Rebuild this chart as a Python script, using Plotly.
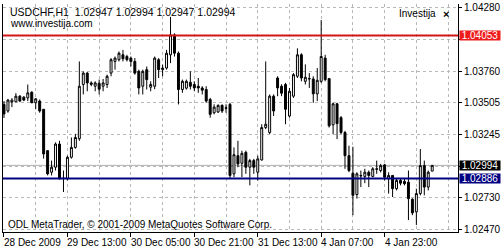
import plotly.graph_objects as go

# ---- data (USDCHF H1) ----
opens = [1.03491,1.03437,1.03510,1.03512,1.03558,1.03550,1.03544,1.03590,1.03504,1.03518,
         1.03451,1.03114,1.02938,1.02979,1.03168,1.02887,1.02885,1.03060,1.03140,1.03211,
         1.03653,1.03746,1.03666,1.03639,1.03663,1.03639,1.03653,1.03746,1.03841,1.03855,
         1.03895,1.03881,1.03868,1.03841,1.03760,1.03639,1.03774,1.03631,1.03639,1.03855,
         1.03774,1.03787,1.03895,1.04057,1.03908,1.03612,1.03623,1.03671,1.03653,1.03639,
         1.03625,1.03612,1.03531,1.03423,1.03429,1.03483,1.03463,1.03491,1.02925,1.03073,
         1.03011,1.03100,1.02979,1.03033,1.02938,1.03038,1.03302,1.03262,1.03558,1.03706,
         1.03639,1.03653,1.03396,1.03558,1.03720,1.03895,1.03679,1.03698,1.03698,1.03577,
         1.03679,1.03868,1.03701,1.03324,1.03496,1.03383,1.03262,1.03073,1.02930,1.02756,
         1.02912,1.02904,1.02938,1.02904,1.02966,1.02952,1.02998,1.02885,1.02912,1.02804,
         1.02871,1.02863,1.02857,1.02718,1.02615,1.02764,1.02992,1.02817,1.02947]
highs = [1.03518,1.03536,1.03542,1.03582,1.03566,1.03558,1.03653,1.03598,1.03542,1.03531,
         1.03453,1.03114,1.03033,1.03181,1.03194,1.02952,1.03073,1.03221,1.03251,1.03841,
         1.03760,1.03754,1.03679,1.03679,1.03693,1.03698,1.03733,1.03868,1.03881,1.03922,
         1.03935,1.03895,1.03881,1.03868,1.03774,1.03774,1.03800,1.03679,1.03881,1.03868,
         1.03814,1.03935,1.04204,1.04070,1.03922,1.03693,1.03693,1.03760,1.03679,1.03706,
         1.03639,1.03639,1.03544,1.03491,1.03491,1.03491,1.03491,1.03504,1.03140,1.03194,
         1.03114,1.03114,1.03047,1.03047,1.03073,1.03329,1.03841,1.03572,1.03572,1.03720,
         1.03655,1.03666,1.03625,1.03746,1.03948,1.03908,1.03817,1.03746,1.03720,1.03787,
         1.04178,1.03895,1.03706,1.03504,1.03504,1.03396,1.03275,1.03154,1.03146,1.02938,
         1.02952,1.02966,1.02952,1.02979,1.03033,1.03006,1.03006,1.02938,1.02912,1.02885,
         1.02885,1.02885,1.02952,1.02726,1.02804,1.03127,1.03033,1.02952,1.02994]
lows = [1.03380,1.03423,1.03469,1.03510,1.03510,1.03518,1.03518,1.03501,1.03451,1.03423,
        1.03049,1.02912,1.02912,1.02952,1.02879,1.02777,1.02871,1.03049,1.03130,1.03194,
        1.03572,1.03598,1.03639,1.03598,1.03572,1.03598,1.03625,1.03720,1.03774,1.03841,
        1.03841,1.03841,1.03800,1.03733,1.03572,1.03572,1.03612,1.03598,1.03615,1.03706,
        1.03720,1.03774,1.03827,1.03881,1.03491,1.03585,1.03612,1.03612,1.03598,1.03585,
        1.03572,1.03504,1.03383,1.03410,1.03421,1.03421,1.03423,1.02887,1.02898,1.02979,
        1.02898,1.02925,1.02831,1.02925,1.02871,1.03033,1.03289,1.03249,1.03396,1.03558,
        1.03558,1.03329,1.03383,1.03544,1.03706,1.03679,1.03653,1.03625,1.03504,1.03518,
        1.03666,1.03679,1.03302,1.03249,1.03208,1.03249,1.02966,1.02938,1.02588,1.02723,
        1.02817,1.02849,1.02817,1.02898,1.02925,1.02936,1.02871,1.02764,1.02736,1.02790,
        1.02831,1.02831,1.02548,1.02588,1.02508,1.02750,1.02750,1.02790,1.02947]
closes = [1.03413,1.03526,1.03526,1.03558,1.03518,1.03526,1.03585,1.03504,1.03536,1.03437,
          1.03087,1.02925,1.02979,1.03168,1.02885,1.02889,1.03060,1.03140,1.03221,1.03639,
          1.03746,1.03666,1.03655,1.03666,1.03615,1.03666,1.03720,1.03855,1.03868,1.03908,
          1.03863,1.03855,1.03841,1.03746,1.03625,1.03760,1.03693,1.03653,1.03868,1.03774,
          1.03787,1.03908,1.04057,1.03908,1.03612,1.03679,1.03679,1.03639,1.03625,1.03625,
          1.03607,1.03518,1.03410,1.03469,1.03483,1.03437,1.03459,1.02912,1.03081,1.03006,
          1.03092,1.02979,1.03033,1.02979,1.03047,1.03302,1.03329,1.03558,1.03437,1.03625,
          1.03582,1.03451,1.03598,1.03733,1.03895,1.03706,1.03712,1.03701,1.03577,1.03687,
          1.03881,1.03693,1.03316,1.03496,1.03334,1.03262,1.03073,1.02952,1.02750,1.02925,
          1.02909,1.02938,1.02912,1.02966,1.02963,1.02992,1.02898,1.02912,1.02804,1.02871,
          1.02849,1.02845,1.02723,1.02607,1.02764,1.02992,1.02817,1.02938,1.02994]

bar_index = list(range(len(opens)))

y_ticks = [1.04280, 1.04020, 1.03760, 1.03505, 1.03245, 1.02985, 1.02730, 1.02470]
# labels hidden behind the price tags in the reference are left blank
y_tick_labels = ["1.04280", "", "1.03760", "1.03505", "1.03245", "", "1.02730", "1.02470"]
x_tick_index = [0, 16, 32, 48, 64, 80, 96]
x_tick_labels = ["28 Dec 2009", "29 Dec 13:00", "30 Dec 05:00", "30 Dec 21:00",
                 "31 Dec 13:00", "4 Jan 07:00", "4 Jan 23:00"]

resistance = 1.04053
support = 1.02886
bid = 1.02994

title_text = "USDCHF,H1  1.02947 1.02994 1.02947 1.02994"

FONT = "Liberation Sans"
GRID = "#b8b8b8"

fig = go.Figure()
fig.add_trace(go.Candlestick(
    x=bar_index, open=opens, high=highs, low=lows, close=closes,
    increasing=dict(line=dict(color="black", width=1), fillcolor="white"),
    decreasing=dict(line=dict(color="black", width=1), fillcolor="black"),
    whiskerwidth=0, hoverinfo="skip", showlegend=False,
))

# level lines
fig.add_hline(y=bid, line=dict(color="#b0b0b0", width=1), layer="below")
fig.add_hline(y=resistance, line=dict(color="#d41414", width=2))
fig.add_hline(y=support, line=dict(color="#000080", width=2))

annotations = []
# price tags on right axis
for val, bg in [(resistance, "#ee1c1c"), (bid, "black"), (support, "#000080")]:
    annotations.append(dict(
        x=1, xref="paper", y=val, yref="y", xanchor="left", yanchor="middle",
        text=f"{val:.5f}", showarrow=False, bgcolor=bg, width=40, height=9,
        borderpad=0, xshift=1, align="center",
        font=dict(family=FONT, size=10, color="white")))

# x tick labels (left-aligned at tick)
for idx, lab in zip(x_tick_index, x_tick_labels):
    annotations.append(dict(
        x=idx, xref="x", y=-0.045, yref="paper", xanchor="left", yanchor="middle",
        text=lab, showarrow=False, xshift=-2,
        font=dict(family=FONT, size=10, color="black")))

annotations += [
    dict(x=(7 - 2) / 459, xref="paper", y=(232 - 10) / 230, yref="paper",
         xanchor="left", yanchor="middle", text=title_text, showarrow=False,
         font=dict(family=FONT, size=10.5, color="black")),
    dict(x=(7 - 2) / 459, xref="paper", y=(232 - 21.5) / 230, yref="paper",
         xanchor="left", yanchor="middle", text="www.investija.com", showarrow=False,
         font=dict(family=FONT, size=10, color="black")),
    dict(x=(441 - 2) / 459, xref="paper", y=(232 - 12) / 230, yref="paper",
         xanchor="right", yanchor="middle", text="Investija", showarrow=False,
         font=dict(family=FONT, size=10, color="black")),
    dict(x=(449 - 2) / 459, xref="paper", y=(232 - 12) / 230, yref="paper",
         xanchor="center", yanchor="middle", text="<b>×</b>", showarrow=False,
         font=dict(family=FONT, size=11, color="black")),
    dict(x=(5 - 2) / 459, xref="paper", y=(232 - 224) / 230, yref="paper",
         xanchor="left", yanchor="middle",
         text="ODL MetaTrader, © 2001-2009 MetaQuotes Software Corp.", showarrow=False,
         font=dict(family=FONT, size=10, color="black")),
]

fig.update_layout(
    width=503, height=250,
    margin=dict(l=2, r=42, t=2, b=18),
    paper_bgcolor="white", plot_bgcolor="white",
    showlegend=False,
    annotations=annotations,
    xaxis=dict(
        range=[-0.25, 114.5], rangeslider=dict(visible=False),
        tickvals=x_tick_index, showticklabels=False,
        ticks="outside", ticklen=4, tickcolor="black",
        showgrid=True, gridcolor=GRID, griddash="3px,3px", gridwidth=1,
        minor=dict(dtick=8, tick0=0, showgrid=True, gridcolor=GRID,
                   griddash="3px,3px", ticks=""),
        showline=True, linecolor="black", linewidth=1,
        zeroline=False, fixedrange=True,
    ),
    yaxis=dict(
        side="right", range=[1.02451, 1.04309],
        tickvals=y_ticks, ticktext=y_tick_labels,
        ticks="outside", ticklen=3, tickcolor="black",
        tickfont=dict(family=FONT, size=10, color="black"),
        showgrid=True, gridcolor=GRID, griddash="3px,3px", gridwidth=1,
        showline=True, linecolor="black", linewidth=1, mirror=True,
        zeroline=False, fixedrange=True,
    ),
)

fig.write_html("out.html")
